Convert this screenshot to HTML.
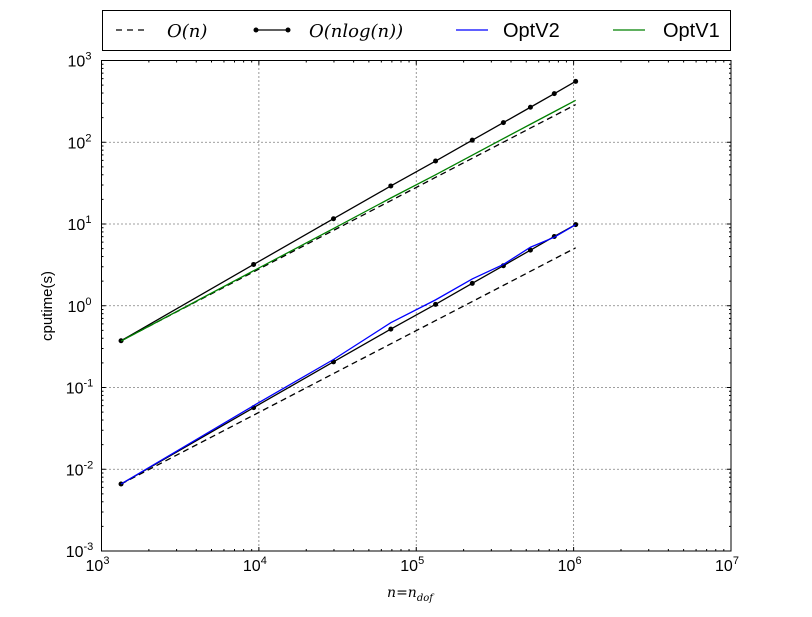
<!DOCTYPE html>
<html><head><meta charset="utf-8"><style>
body{margin:0;background:#fff;}
svg text{font-family:"Liberation Sans",sans-serif;}
.m{font-family:"DejaVu Serif","Liberation Serif",serif;font-style:italic;}
</style></head><body>
<svg id="c" width="812" height="612" xmlns="http://www.w3.org/2000/svg"></svg>
<script>
const nVals=[1331,9261,29791,68921,132651,226981,357911,531441,753571,1030301];
const nlognHigh=[0.373,3.2,11.6,29.2,58.9,106,174,268,393,556];
const nHigh=[0.373,2.6,8.35,19.3,37.2,63.6,100.3,149,211,289];
const optV1=[0.37,2.68,8.8,20.8,40,69.5,111,166,237,326];
const nlognLow=[0.0066,0.0567,0.206,0.518,1.04,1.88,3.09,4.79,7.04,9.84];
const nLow=[0.0066,0.0459,0.148,0.342,0.658,1.125,1.775,2.635,3.737,5.11];
const optV2=[0.0066,0.06,0.22,0.62,1.18,2.13,3.2,5.2,6.9,9.8];
const xTicks=[3,4,5,6,7];
const yTicks=[-3,-2,-1,0,1,2,3];

const NS="http://www.w3.org/2000/svg";
const svg=document.getElementById('c');
const L=101.5,R=731,T=60.5,B=551;
const X=v=>L+(Math.log10(v)-3)/4*(R-L);
const Y=v=>B-(Math.log10(v)+3)/6*(B-T);
function mk(t,a,p){const e=document.createElementNS(NS,t);for(const k in a)e.setAttribute(k,a[k]);(p||svg).appendChild(e);return e;}

xTicks.forEach(d=>{const x=X(Math.pow(10,d));
 const g=mk('line',{x1:x,x2:x,y1:T,y2:B,stroke:'#000','stroke-dasharray':'1,3','stroke-width':0.8});
 
 
 for(let k=2;k<10&&d<7;k++){const xm=X(k*Math.pow(10,d));
  mk('line',{x1:xm,x2:xm,y1:B,y2:B-2,stroke:'#000'});mk('line',{x1:xm,x2:xm,y1:T,y2:T+2,stroke:'#000'});}
 mk('line',{x1:x,x2:x,y1:B,y2:B-4,stroke:'#000'});mk('line',{x1:x,x2:x,y1:T,y2:T+4,stroke:'#000'});
 const t=mk('text',{x:x-4,y:B+20,'font-size':16,'text-anchor':'middle'});t.textContent='10';
 
 
 const s=mk('tspan',{dy:-7,'font-size':11},t);s.textContent=d;
});
yTicks.forEach(d=>{const y=Y(Math.pow(10,d));
 const g=mk('line',{x1:L,x2:R,y1:y,y2:y,stroke:'#000','stroke-dasharray':'1,3','stroke-width':0.8});
 
 
 for(let k=2;k<10&&d<3;k++){const ym=Y(k*Math.pow(10,d));
  mk('line',{x1:L,x2:L+2,y1:ym,y2:ym,stroke:'#000'});mk('line',{x1:R,x2:R-2,y1:ym,y2:ym,stroke:'#000'});}
 mk('line',{x1:L,x2:L+4,y1:y,y2:y,stroke:'#000'});mk('line',{x1:R,x2:R-4,y1:y,y2:y,stroke:'#000'});
 const t=mk('text',{x:L-22,y:y+6,'font-size':16,'text-anchor':'middle'});t.textContent='10';
 
 
 const s=mk('tspan',{dy:-7,'font-size':11},t);s.textContent=d;
});

function line(vals,color,dash,name,dots){
 const pts=nVals.map((n,i)=>X(n)+','+Y(vals[i])).join(' ');
 const p=mk('polyline',{points:pts,fill:'none',stroke:color,'stroke-width':1.3,'stroke-dasharray':dash||''});
 
 
 if(dots)nVals.forEach((n,i)=>{const c=mk('circle',{cx:X(n),cy:Y(vals[i]),r:2.5,fill:'#000'});
  
  });
}
line(nHigh,'#000','6,4','on-line-high');
line(nLow,'#000','6,4','on-line-low');
line(nlognHigh,'#000','','nlogn-line-high',true);
line(nlognLow,'#000','','nlogn-line-low',true);
line(optV1,'#008000','','optv1-line');
line(optV2,'#0000ff','','optv2-line');

const fr=mk('rect',{x:L,y:T,width:R-L,height:B-T,fill:'none',stroke:'#000','stroke-width':1});



const yl=mk('text',{x:0,y:0,'font-size':15,'text-anchor':'middle',transform:'translate(52,306) rotate(-90)'});yl.textContent='cputime(s)';


const xl=mk('text',{x:410,y:597,'font-size':14,'text-anchor':'middle',class:'m'});xl.textContent='n=n';


const xs=mk('tspan',{dy:4,'font-size':10},xl);xs.textContent='dof';

const lg=mk('g',{});


mk('rect',{x:102.5,y:10.5,width:628,height:40,fill:'#fff',stroke:'#000'},lg);
const ent=[[113,'#000','6,5',false,'O(n)',true,'legend-entry-on',54],[253,'#000','',true,'O(nlog(n))',true,'legend-entry-nlogn',56],[453,'#00f','',false,'OptV2',false,'legend-entry-optv2',50],[610,'#008000','',false,'OptV1',false,'legend-entry-optv1',53]];
ent.forEach(e=>{const g=mk('g',{},lg);
 
 
 mk('line',{x1:e[0]+3,x2:e[0]+35,y1:30,y2:30,stroke:e[1],'stroke-width':1.3,'stroke-dasharray':e[2]},g);
 if(e[3]){mk('circle',{cx:e[0]+3,cy:30,r:2.5,fill:'#000'},g);mk('circle',{cx:e[0]+35,cy:30,r:2.5,fill:'#000'},g);}
 const t=mk('text',{x:e[0]+e[7],y:37,'font-size':e[5]?18:20},g);if(e[5])t.setAttribute('class','m');t.textContent=e[4];
});
</script>
</body></html>
